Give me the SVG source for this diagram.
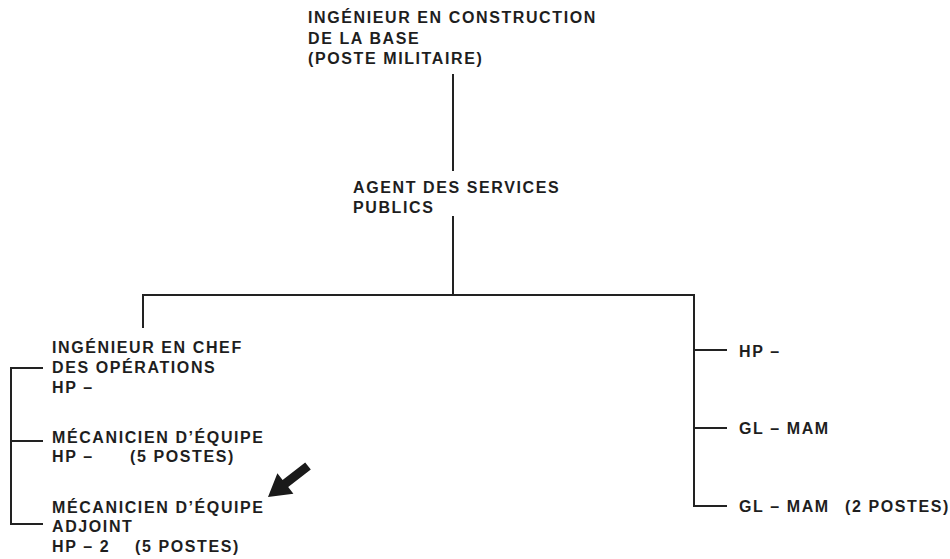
<svg xmlns="http://www.w3.org/2000/svg" width="950" height="559" viewBox="0 0 950 559">
<style>
  .t { font-family: "Liberation Sans", Arial, Helvetica, sans-serif; font-weight: bold; font-size: 16px; letter-spacing: 1.6px; fill: #1e1e1e; }
  .c { fill: none; stroke: #222; stroke-width: 2; stroke-linecap: square; }
</style>
<rect width="950" height="559" fill="#ffffff"/>
<g id="connectors">
  <path class="c" d="M453 75 V170"/>
  <path class="c" d="M453 217 V295"/>
  <path class="c" d="M143 327 V295 H694 V506"/>
  <path class="c" d="M694 350 H726 M694 428 H726 M694 506 H726"/>
  <path class="c" d="M42 368 H11 V524 H42 M11 441 H42"/>
  <polygon points="268,497 277.4,473.2 282.6,479.9 305.2,462.4 310.8,469.6 288.2,487.1 293.4,493.8" fill="#1a1a1a"/>
</g>
<g id="n-ingenieur-construction">
  <text class="t" x="308" y="23">INGÉNIEUR EN CONSTRUCTION</text>
  <text class="t" x="308" y="44">DE LA BASE</text>
  <text class="t" x="308" y="64">(POSTE MILITAIRE)</text>
</g>
<g id="n-agent">
  <text class="t" x="353" y="193">AGENT DES SERVICES</text>
  <text class="t" x="353" y="213">PUBLICS</text>
</g>
<g id="n-ingenieur-chef">
  <text class="t" x="52" y="353">INGÉNIEUR EN CHEF</text>
  <text class="t" x="52" y="373">DES OPÉRATIONS</text>
  <text class="t" x="52" y="393">HP –</text>
</g>
<g id="n-mecanicien">
  <text class="t" x="52" y="443">MÉCANICIEN D’ÉQUIPE</text>
  <text class="t" x="52" y="462">HP –</text>
  <text class="t" x="130" y="462">(5 POSTES)</text>
</g>
<g id="n-mecanicien-adjoint">
  <text class="t" x="52" y="513">MÉCANICIEN D’ÉQUIPE</text>
  <text class="t" x="52" y="532">ADJOINT</text>
  <text class="t" x="52" y="552">HP – 2</text>
  <text class="t" x="135" y="552">(5 POSTES)</text>
</g>
<g id="n-hp">
  <text class="t" x="739" y="357">HP –</text>
</g>
<g id="n-glmam1">
  <text class="t" x="739" y="434">GL – MAM</text>
</g>
<g id="n-glmam2">
  <text class="t" x="739" y="512">GL – MAM</text>
  <text class="t" x="845" y="512">(2 POSTES)</text>
</g>
</svg>
